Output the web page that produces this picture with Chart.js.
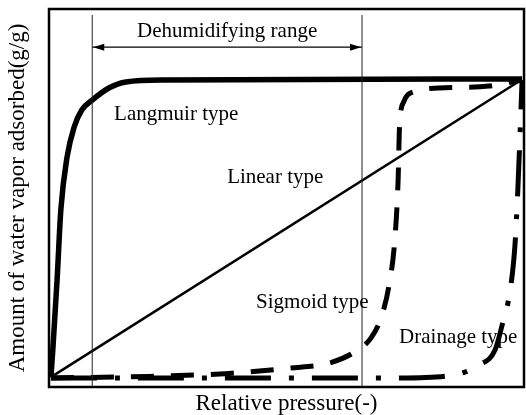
<!DOCTYPE html>
<html>
<head>
<meta charset="utf-8">
<script src="https://cdn.jsdelivr.net/npm/chart.js@4"></script>
<style>
  body { margin: 0; background: #fff; }
  canvas { display: block; }
</style>
</head>
<body>
<canvas id="isotherm" width="526" height="415"></canvas>
<script>
// Relative pressure (x) and amount adsorbed (y), both in 0..1 units
const langmuirP = [0.004, 0.008, 0.017, 0.025, 0.038, 0.053, 0.069, 0.091, 0.126, 0.162, 0.246, 0.996];
const langmuirQ = [0.026, 0.098, 0.283, 0.470, 0.608, 0.688, 0.733, 0.759, 0.791, 0.807, 0.812, 0.815];

const linearP = [0.004, 0.994];
const linearQ = [0.026, 0.812];

const sigmoidP = [0.004, 0.211, 0.379, 0.505, 0.589, 0.644, 0.678, 0.699, 0.716, 0.728, 0.735, 0.738, 0.747, 0.768, 0.821, 0.926, 0.994];
const sigmoidQ = [0.024, 0.028, 0.036, 0.050, 0.063, 0.093, 0.130, 0.183, 0.270, 0.389, 0.548, 0.690, 0.755, 0.781, 0.791, 0.796, 0.812];

const drainageP = [0.004, 0.316, 0.737, 0.853, 0.905, 0.939, 0.954, 0.971, 0.981, 0.987, 0.992, 0.996];
const drainageQ = [0.024, 0.024, 0.024, 0.032, 0.058, 0.098, 0.164, 0.257, 0.376, 0.521, 0.680, 0.812];

// dehumidifying range (relative pressure)
const rangeStart = 0.091;
const rangeEnd = 0.659;
const rangeLevel = 0.899;

const labelNotes = [
  { text: 'Dehumidifying range', x: 0.375, y: 0.926, align: 'center' },
  { text: 'Langmuir type', x: 0.137, y: 0.706, align: 'left' },
  { text: 'Linear type', x: 0.375, y: 0.540, align: 'left' },
  { text: 'Sigmoid type', x: 0.436, y: 0.209, align: 'left' },
  { text: 'Drainage type', x: 0.737, y: 0.116, align: 'left' }
];

const serif = "'Liberation Serif', 'Times New Roman', serif";

function pts(xs, ys) {
  return xs.map((x, i) => ({ x: x, y: ys[i] }));
}

// frame, arrow heads and curve labels
const extrasPlugin = {
  id: 'extras',
  afterDraw(chart) {
    const ctx = chart.ctx;
    const xs = chart.scales.x, ys = chart.scales.y;
    const a = chart.chartArea;
    ctx.save();

    // arrow heads
    const ay = ys.getPixelForValue(rangeLevel);
    const x0 = xs.getPixelForValue(rangeStart);
    const x1 = xs.getPixelForValue(rangeEnd);
    ctx.fillStyle = '#000';
    ctx.beginPath();
    ctx.moveTo(x0 + 1, ay);
    ctx.lineTo(x0 + 12, ay - 3.5);
    ctx.lineTo(x0 + 12, ay + 3.5);
    ctx.closePath();
    ctx.fill();
    ctx.beginPath();
    ctx.moveTo(x1 - 1, ay);
    ctx.lineTo(x1 - 12, ay - 3.5);
    ctx.lineTo(x1 - 12, ay + 3.5);
    ctx.closePath();
    ctx.fill();

    // labels
    ctx.font = '21px ' + serif;
    ctx.textBaseline = 'alphabetic';
    labelNotes.forEach(n => {
      ctx.textAlign = n.align;
      ctx.fillText(n.text, xs.getPixelForValue(n.x), ys.getPixelForValue(n.y));
    });

    // frame
    ctx.strokeStyle = '#000';
    ctx.lineWidth = 2.5;
    ctx.strokeRect(a.left, a.top, a.right - a.left, a.bottom - a.top);
    ctx.restore();
  }
};

const ctx = document.getElementById('isotherm').getContext('2d');

new Chart(ctx, {
  type: 'line',
  data: {
    datasets: [
      { data: pts([rangeStart, rangeStart], [0, 0.984]), borderColor: '#222', borderWidth: 1 },
      { data: pts([rangeEnd, rangeEnd], [0, 0.984]), borderColor: '#222', borderWidth: 1 },
      { data: pts([rangeStart, rangeEnd], [rangeLevel, rangeLevel]), borderColor: '#000', borderWidth: 1.2 },
      { label: 'Langmuir type', data: pts(langmuirP, langmuirQ), borderColor: '#000', borderWidth: 5.5, cubicInterpolationMode: 'monotone' },
      { label: 'Linear type', data: pts(linearP, linearQ), borderColor: '#000', borderWidth: 2.5 },
      { label: 'Sigmoid type', data: pts(sigmoidP, sigmoidQ), borderColor: '#000', borderWidth: 5, borderDash: [23, 17], cubicInterpolationMode: 'monotone' },
      { label: 'Drainage type', data: pts(drainageP, drainageQ), borderColor: '#000', borderWidth: 5, borderDash: [46, 18, 5, 18], cubicInterpolationMode: 'monotone' }
    ]
  },
  options: {
    responsive: false,
    animation: false,
    layout: { padding: { top: 9, right: 2, left: 0, bottom: 0 } },
    elements: {
      point: { radius: 0 },
      line: { fill: false, borderCapStyle: 'butt', borderJoinStyle: 'round' }
    },
    datasets: { line: { clip: false } },
    plugins: {
      legend: { display: false },
      tooltip: { enabled: false }
    },
    scales: {
      x: {
        type: 'linear',
        min: 0,
        max: 1,
        grid: { display: false },
        border: { display: false },
        ticks: { display: false },
        title: {
          display: true,
          text: 'Relative pressure(-)',
          color: '#000',
          font: { family: serif, size: 23 },
          padding: { top: 0, bottom: -3 }
        },
        afterFit: s => { s.height = 28; }
      },
      y: {
        type: 'linear',
        min: 0,
        max: 1,
        grid: { display: false },
        border: { display: false },
        ticks: { display: false },
        title: {
          display: true,
          text: 'Amount of water vapor adsorbed(g/g)',
          color: '#000',
          font: { family: serif, size: 23 },
          padding: { top: 4, bottom: 0 }
        },
        afterFit: s => { s.width = 49; }
      }
    }
  },
  plugins: [extrasPlugin]
});
</script>
</body>
</html>
